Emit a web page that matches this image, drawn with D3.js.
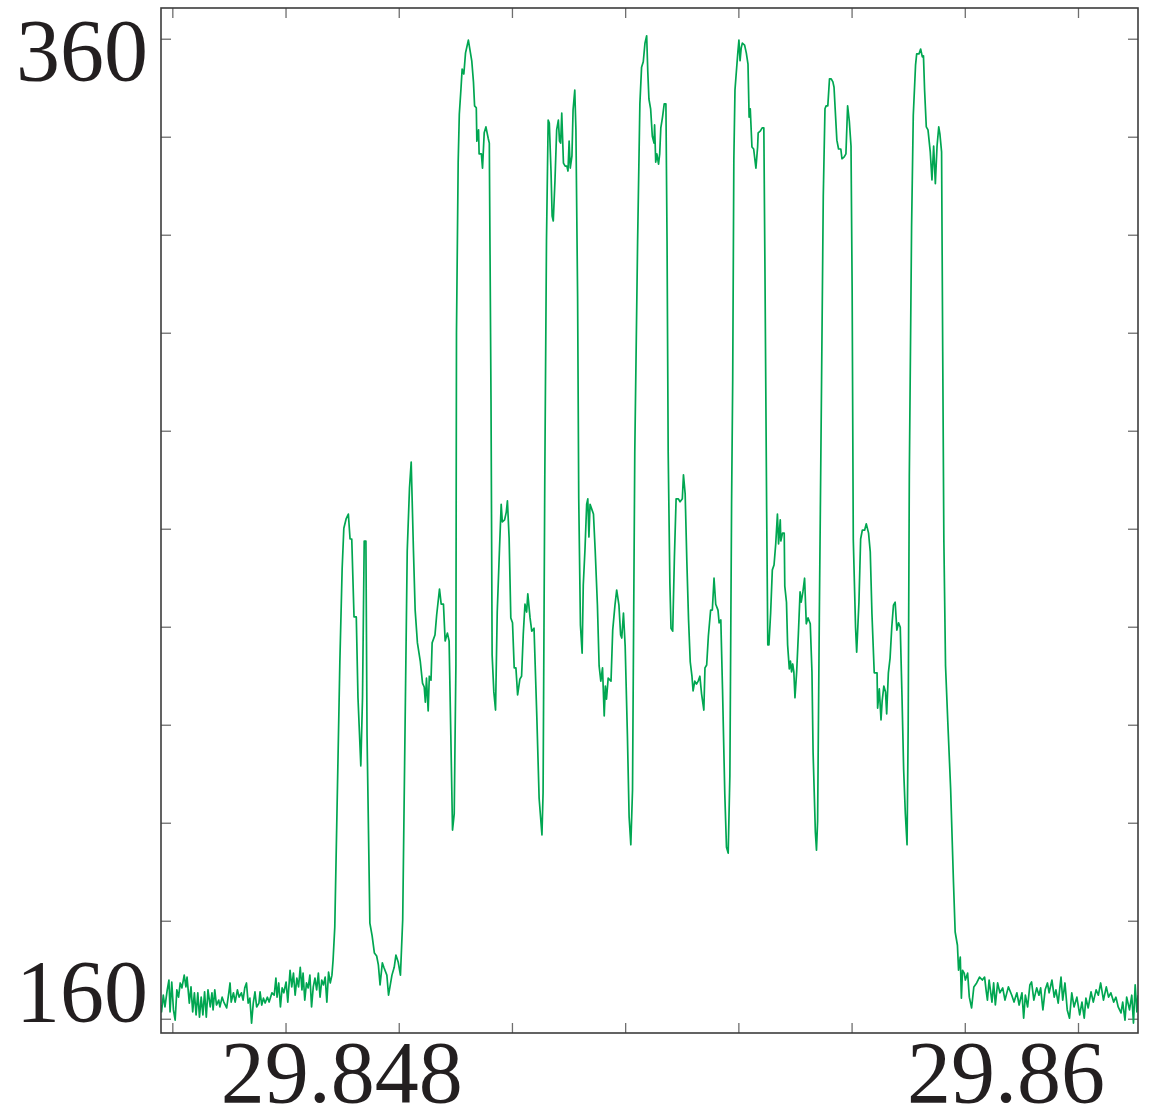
<!DOCTYPE html>
<html>
<head>
<meta charset="utf-8">
<script src="https://cdn.jsdelivr.net/npm/d3@7"></script>
<style>
html,body{margin:0;padding:0;background:#ffffff;}
svg{display:block;}
</style>
</head>
<body>
<svg id="chart" width="1157" height="1115"></svg>
<script>
// ---------------- data ----------------
const xDomain = [29.8438, 29.86106];
const yDomain = [157.09, 366.27];

const xTickValues = [29.844, 29.846, 29.848, 29.850, 29.852, 29.854, 29.856, 29.858, 29.860];
const yTickValues = [160, 180, 200, 220, 240, 260, 280, 300, 320, 340, 360];

const xLabelValues = [29.848, 29.86];
const xLabelTexts = ["29.848", "29.86"];
const yLabelValues = [360, 160];
const yLabelTexts = ["360", "160"];

// [time, signal] samples
const baselineLeft = [
[29.84380,162.8],[29.84381,161.4],[29.84384,164.8],[29.84387,162.4],[29.84391,165.9],[29.84394,167.9],[29.84396,161.4],[29.84399,167.5],[29.84402,161.8],[29.84405,159.7],
[29.84408,165.9],[29.84411,164.4],[29.84414,167.3],[29.84417,166.3],[29.84421,168.9],[29.84424,166.5],[29.84426,168.5],[29.84430,163.2],[29.84433,166.5],[29.84436,161.4],
[29.84439,165.3],[29.84442,160.8],[29.84445,165.3],[29.84448,160.3],[29.84451,164.4],[29.84454,160.8],[29.84457,165.5],[29.84460,160.3],[29.84463,165.9],[29.84467,162.4],
[29.84470,165.3],[29.84472,161.8],[29.84475,165.9],[29.84478,162.8],[29.84482,163.8],[29.84484,162.4],[29.84488,164.4],[29.84491,163.4],[29.84496,162.2],[29.84500,165.5],
[29.84502,167.3],[29.84504,163.4],[29.84508,165.3],[29.84511,163.4],[29.84515,165.9],[29.84518,164.4],[29.84522,165.3],[29.84525,163.8],[29.84528,166.3],[29.84531,167.3],
[29.84534,163.2],[29.84537,164.2],[29.84540,159.1],[29.84543,163.2],[29.84546,165.5],[29.84549,162.4],[29.84553,163.2],[29.84555,165.5],[29.84558,162.8],[29.84561,164.2],
[29.84564,163.2],[29.84568,164.4],[29.84571,163.4],[29.84576,165.3],[29.84580,164.8],[29.84583,168.3],[29.84585,164.4],[29.84588,167.3],[29.84591,162.4],[29.84594,166.3],
[29.84597,165.3],[29.84601,167.5],[29.84604,163.4],[29.84608,169.9],[29.84611,166.5],[29.84614,169.3],[29.84617,164.8],[29.84620,168.3],[29.84623,166.5],[29.84626,170.5],
[29.84629,165.9],[29.84631,169.3],[29.84634,163.8],[29.84637,167.3],[29.84640,166.3],[29.84643,168.9],[29.84646,162.4],[29.84649,166.5],[29.84652,168.3],[29.84655,165.9],
[29.84658,169.3],[29.84661,164.4],[29.84664,167.9],[29.84667,166.9],[29.84670,168.5],[29.84673,163.4],[29.84676,169.5],[29.84679,167.3],[29.84682,168.9]
];

const pulseTrain = [
[29.84684,172.0],[29.84687,178.7],[29.84691,202.8],[29.84696,233.0],[29.84700,251.8],[29.84703,260.1],[29.84707,262.0],[29.84711,263.0],[29.84714,257.9],[29.84717,257.9],
[29.84721,242.0],[29.84725,242.0],[29.84728,225.5],[29.84733,211.6],[29.84736,225.5],[29.84739,257.5],[29.84742,257.5],[29.84744,217.9],[29.84749,179.5],[29.84753,176.9],
[29.84757,173.4],[29.84761,172.8],[29.84764,171.0],[29.84767,166.9],[29.84771,171.4],[29.84774,170.4],[29.84779,168.9],[29.84782,164.8],[29.84788,168.9],[29.84792,170.5],
[29.84795,173.0],[29.84799,171.6],[29.84803,168.9],[29.84807,180.2],[29.84811,217.9],[29.84815,255.5],[29.84819,268.3],[29.84822,273.6],[29.84826,255.5],[29.84829,243.4],
[29.84833,236.7],[29.84838,233.0],[29.84842,228.5],[29.84845,227.7],[29.84847,224.6],[29.84849,229.5],[29.84852,222.8],[29.84854,229.9],[29.84857,229.1],[29.84859,236.7],
[29.84864,238.3],[29.84867,242.4],[29.84872,247.7],[29.84875,244.6],[29.84879,244.6],[29.84882,237.1],[29.84886,238.7],[29.84889,237.1],[29.84892,217.9],[29.84895,198.5],
[29.84898,201.8],[29.84901,232.2],[29.84902,300.1],[29.84905,334.8],[29.84907,344.6],[29.84910,349.9],[29.84912,353.8],[29.84915,352.8],[29.84918,357.1],[29.84923,359.7],
[29.84929,355.5],[29.84932,351.2],[29.84934,346.3],[29.84937,345.9],[29.84938,339.1],[29.84941,341.4],[29.84942,336.5],[29.84946,336.5],[29.84948,333.6],[29.84951,340.8],
[29.84954,342.0],[29.84958,339.7],[29.84960,338.7],[29.84963,286.3],[29.84965,234.2],[29.84968,226.7],[29.84971,223.0],[29.84974,243.0],[29.84978,255.9],[29.84981,265.0],
[29.84983,261.4],[29.84987,261.8],[29.84990,263.4],[29.84992,265.7],[29.84995,258.1],[29.84998,241.8],[29.85001,240.8],[29.85004,231.6],[29.85007,231.6],[29.85010,226.1],
[29.85014,229.3],[29.85017,229.9],[29.85020,238.5],[29.85023,244.6],[29.85026,243.0],[29.85028,246.7],[29.85032,241.8],[29.85035,239.1],[29.85039,239.7],[29.85044,221.4],
[29.85048,205.0],[29.85053,197.5],[29.85055,206.1],[29.85058,269.9],[29.85061,318.7],[29.85064,343.4],[29.85066,342.8],[29.85069,333.0],[29.85071,323.8],[29.85073,322.8],
[29.85076,331.0],[29.85079,341.4],[29.85082,343.4],[29.85084,339.1],[29.85086,338.7],[29.85088,344.8],[29.85091,334.6],[29.85094,334.0],[29.85097,334.0],[29.85099,333.0],
[29.85101,339.1],[29.85103,333.6],[29.85106,336.1],[29.85108,345.5],[29.85111,349.5],[29.85113,341.4],[29.85116,307.3],[29.85118,266.1],[29.85121,240.3],[29.85124,234.6],
[29.85126,248.5],[29.85129,255.7],[29.85132,265.0],[29.85134,266.1],[29.85136,258.3],[29.85138,265.0],[29.85141,264.0],[29.85144,263.0],[29.85147,255.7],[29.85151,244.4],
[29.85154,232.0],[29.85157,228.9],[29.85160,231.6],[29.85163,221.8],[29.85165,227.9],[29.85167,225.2],[29.85170,229.5],[29.85175,228.9],[29.85178,239.3],[29.85182,244.4],
[29.85185,247.5],[29.85189,244.4],[29.85192,238.3],[29.85194,237.7],[29.85197,242.8],[29.85200,236.1],[29.85204,217.7],[29.85207,201.2],[29.85210,195.5],[29.85213,206.7],
[29.85217,275.7],[29.85222,318.7],[29.85226,346.7],[29.85229,354.2],[29.85232,355.3],[29.85235,359.1],[29.85238,360.6],[29.85240,353.2],[29.85242,347.7],[29.85245,345.7],
[29.85248,340.1],[29.85251,338.7],[29.85252,342.4],[29.85254,334.8],[29.85256,336.5],[29.85259,334.4],[29.85261,336.5],[29.85263,341.8],[29.85266,344.0],[29.85269,346.7],
[29.85272,346.7],[29.85274,318.7],[29.85276,275.7],[29.85279,248.9],[29.85281,239.7],[29.85284,239.1],[29.85287,254.2],[29.85290,266.1],[29.85294,266.1],[29.85297,265.5],
[29.85301,266.1],[29.85303,271.0],[29.85306,267.1],[29.85309,253.2],[29.85312,241.4],[29.85315,232.8],[29.85318,229.9],[29.85320,226.9],[29.85323,228.9],[29.85326,228.3],
[29.85329,228.9],[29.85332,229.9],[29.85335,226.3],[29.85339,223.0],[29.85341,231.6],[29.85344,232.2],[29.85347,238.1],[29.85351,243.4],[29.85354,243.4],[29.85357,249.9],
[29.85360,244.6],[29.85364,243.4],[29.85366,240.8],[29.85369,241.4],[29.85372,227.3],[29.85376,205.9],[29.85379,195.0],[29.85382,193.8],[29.85385,209.7],[29.85388,265.0],
[29.85390,290.4],[29.85392,335.2],[29.85394,349.5],[29.85396,352.6],[29.85399,357.1],[29.85401,359.7],[29.85403,355.5],[29.85405,358.1],[29.85407,359.1],[29.85411,358.7],
[29.85414,357.1],[29.85417,354.8],[29.85419,344.0],[29.85421,345.7],[29.85424,337.9],[29.85427,337.5],[29.85431,333.6],[29.85434,337.9],[29.85435,340.8],[29.85439,341.2],
[29.85442,341.8],[29.85445,341.8],[29.85447,312.4],[29.85450,263.4],[29.85452,236.3],[29.85454,236.3],[29.85457,242.8],[29.85460,251.6],[29.85463,252.6],[29.85466,256.9],
[29.85469,263.0],[29.85471,256.9],[29.85474,261.8],[29.85475,257.5],[29.85478,259.1],[29.85481,259.1],[29.85482,248.3],[29.85485,245.0],[29.85487,236.3],[29.85490,231.4],
[29.85492,233.0],[29.85494,230.8],[29.85496,232.4],[29.85498,230.8],[29.85500,225.5],[29.85503,230.8],[29.85506,238.5],[29.85509,247.1],[29.85511,245.0],[29.85514,247.1],
[29.85517,249.9],[29.85520,240.6],[29.85523,241.8],[29.85527,240.6],[29.85530,230.8],[29.85532,214.4],[29.85536,198.1],[29.85538,194.4],[29.85540,200.4],[29.85543,241.8],
[29.85545,265.9],[29.85547,290.4],[29.85550,327.9],[29.85553,345.7],[29.85555,346.3],[29.85558,346.3],[29.85561,351.8],[29.85564,351.8],[29.85567,351.2],[29.85569,350.1],
[29.85571,345.7],[29.85574,339.3],[29.85577,337.5],[29.85581,337.5],[29.85583,335.5],[29.85587,335.9],[29.85590,336.5],[29.85593,346.3],[29.85596,343.2],[29.85599,338.1],
[29.85601,308.7],[29.85603,257.9],[29.85607,239.9],[29.85609,234.8],[29.85613,245.0],[29.85616,257.9],[29.85619,259.7],[29.85623,259.7],[29.85626,261.0],[29.85630,259.1],
[29.85633,255.3],[29.85636,242.6],[29.85640,230.6],[29.85645,230.6],[29.85646,223.4],[29.85649,227.3],[29.85652,221.0],[29.85654,224.8],[29.85657,227.9],[29.85660,226.7],
[29.85662,222.2],[29.85665,230.6],[29.85668,233.6],[29.85671,239.9],[29.85674,244.4],[29.85677,245.0],[29.85680,239.3],[29.85683,240.8],[29.85686,239.9],[29.85689,226.1],
[29.85692,210.8],[29.85695,201.8],[29.85698,195.5],[29.85700,219.7],[29.85702,270.6],[29.85706,321.6],[29.85709,344.4],[29.85713,354.6],[29.85715,356.9],[29.85719,356.9],
[29.85722,357.9],[29.85725,356.3],[29.85727,356.5],[29.85729,349.5],[29.85732,342.0],[29.85735,341.4],[29.85739,336.9],[29.85742,331.2],[29.85745,338.1],[29.85748,330.4],
[29.85751,338.1],[29.85754,342.0],[29.85756,340.6],[29.85759,336.9],[29.85761,296.1],[29.85763,257.9],[29.85766,232.0],[29.85770,220.5],[29.85775,206.9],[29.85780,187.9],
[29.85783,177.7],[29.85787,175.0],[29.85789,169.9],[29.85792,172.6],[29.85794,164.2],[29.85796,169.9],[29.85799,169.3]
];

const baselineRight = [
[29.85801,167.9],[29.85805,169.3],[29.85808,164.4],[29.85812,162.2],[29.85816,166.5],[29.85821,167.3],[29.85826,168.5],[29.85831,167.9],[29.85835,168.5],[29.85838,165.5],
[29.85840,163.8],[29.85843,167.9],[29.85848,163.4],[29.85851,167.3],[29.85854,162.8],[29.85858,167.3],[29.85862,165.3],[29.85867,166.3],[29.85871,163.8],[29.85877,166.5],
[29.85883,164.8],[29.85887,163.4],[29.85892,165.3],[29.85896,162.8],[29.85901,165.3],[29.85904,160.1],[29.85907,164.8],[29.85911,162.4],[29.85915,166.9],[29.85918,167.5],
[29.85922,163.8],[29.85927,166.3],[29.85931,164.8],[29.85934,166.3],[29.85938,161.8],[29.85942,165.9],[29.85946,167.3],[29.85949,165.3],[29.85954,167.9],[29.85958,164.4],
[29.85961,165.9],[29.85965,163.2],[29.85970,168.5],[29.85973,163.8],[29.85977,167.3],[29.85981,161.8],[29.85985,160.1],[29.85989,165.3],[29.85993,162.4],[29.85998,164.4],
[29.86003,160.8],[29.86007,163.4],[29.86011,160.1],[29.86014,164.2],[29.86018,162.2],[29.86023,165.5],[29.86027,163.4],[29.86032,165.9],[29.86036,164.8],[29.86040,167.3],
[29.86045,163.8],[29.86050,166.5],[29.86054,164.4],[29.86058,165.3],[29.86063,163.4],[29.86067,164.4],[29.86071,162.4],[29.86076,161.2],[29.86079,163.4],[29.86083,159.7],
[29.86086,164.4],[29.86091,161.8],[29.86095,164.8],[29.86098,159.1],[29.86101,166.9],[29.86104,161.4],[29.86106,164.8]
];

// ---------------- layout ----------------
const plot = {left: 161, top: 8, right: 1138, bottom: 1033};
const frameColor = "#3c3c3c";
const tickColor = "#6e6e6e";
const lineColor = "#00a651";
const textColor = "#231f20";
const fontFamily = "'Liberation Serif', 'Times New Roman', 'DejaVu Serif', serif";
const fontSize = 88;
const tickLen = 10;

const svg = d3.select("#chart");

const x = d3.scaleLinear().domain(xDomain).range([plot.left, plot.right]);
const y = d3.scaleLinear().domain(yDomain).range([plot.bottom, plot.top]);

svg.append("defs").append("clipPath").attr("id", "clip")
  .append("rect")
  .attr("x", plot.left).attr("y", plot.top)
  .attr("width", plot.right - plot.left).attr("height", plot.bottom - plot.top);

// ticks (pointing inward on all four sides)
function styleAxis(g) {
  g.select(".domain").remove();
  g.selectAll(".tick line").attr("stroke", tickColor).attr("stroke-width", 1.3);
  g.selectAll(".tick text").remove();
}
svg.append("g").attr("transform", `translate(0,${plot.bottom})`)
  .call(d3.axisBottom(x).tickValues(xTickValues).tickSize(-tickLen).tickFormat(""))
  .call(styleAxis);
svg.append("g").attr("transform", `translate(0,${plot.top})`)
  .call(d3.axisTop(x).tickValues(xTickValues).tickSize(-tickLen).tickFormat(""))
  .call(styleAxis);
svg.append("g").attr("transform", `translate(${plot.left},0)`)
  .call(d3.axisLeft(y).tickValues(yTickValues).tickSize(-tickLen).tickFormat(""))
  .call(styleAxis);
svg.append("g").attr("transform", `translate(${plot.right},0)`)
  .call(d3.axisRight(y).tickValues(yTickValues).tickSize(-tickLen).tickFormat(""))
  .call(styleAxis);

// signal line
const samples = baselineLeft.concat(pulseTrain, baselineRight);
const line = d3.line().x(d => x(d[0])).y(d => y(d[1]));
svg.append("path")
  .datum(samples)
  .attr("clip-path", "url(#clip)")
  .attr("fill", "none")
  .attr("stroke", lineColor)
  .attr("stroke-width", 1.7)
  .attr("stroke-linejoin", "round")
  .attr("d", line);

// frame
svg.append("rect")
  .attr("x", plot.left).attr("y", plot.top)
  .attr("width", plot.right - plot.left).attr("height", plot.bottom - plot.top)
  .attr("fill", "none").attr("stroke", frameColor).attr("stroke-width", 1.6);

// tick labels (placement offsets)
const yLabelOffsets = [41, 2];
svg.append("g").selectAll("text")
  .data(yLabelValues)
  .join("text")
  .attr("x", 148)
  .attr("y", (d, i) => y(d) + yLabelOffsets[i])
  .attr("text-anchor", "end")
  .attr("font-family", fontFamily)
  .attr("font-size", fontSize)
  .attr("fill", textColor)
  .text((d, i) => yLabelTexts[i]);

const xLabelOffsets = [-57, -72];
svg.append("g").selectAll("text")
  .data(xLabelValues)
  .join("text")
  .attr("x", (d, i) => x(d) + xLabelOffsets[i])
  .attr("y", 1102)
  .attr("text-anchor", "middle")
  .attr("font-family", fontFamily)
  .attr("font-size", fontSize)
  .attr("fill", textColor)
  .text((d, i) => xLabelTexts[i]);
</script>
</body>
</html>
